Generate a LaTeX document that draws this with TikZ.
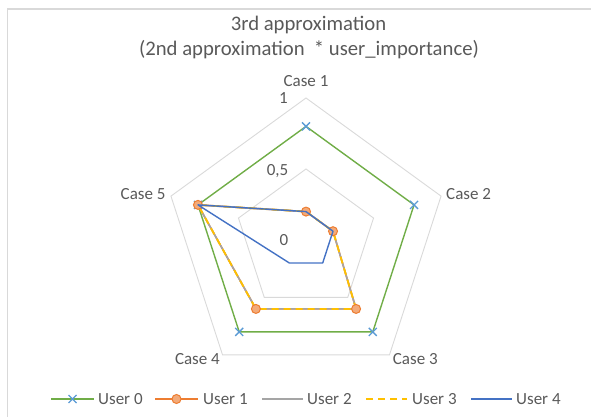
\documentclass[tikz,border=0pt]{standalone}
\usepackage{fontspec}
\setmainfont{Carlito}
\definecolor{txtgray}{HTML}{595959}
\definecolor{gridgray}{HTML}{D9D9D9}
\definecolor{cgreen}{HTML}{70AD47}
\definecolor{corange}{HTML}{ED7D31}
\definecolor{cgray}{HTML}{A5A5A5}
\definecolor{cyellow}{HTML}{FFC000}
\definecolor{cblue}{HTML}{4472C4}
\definecolor{cmark}{HTML}{5B9BD5}
\begin{document}
\begin{tikzpicture}[x=1pt,y=1pt,
  gridline/.style={draw=gridgray, line width=0.9pt, line join=miter},
  frameline/.style={draw=gridgray, line width=1.3pt},
  lbl/.style={text=txtgray, font=\fontsize{17}{20}\selectfont, inner sep=0pt},
  ttl/.style={text=txtgray, font=\fontsize{20.7}{24}\selectfont, inner sep=0pt},
  serzero/.style={draw=cgreen, line width=1.4pt, line join=round},
  serone/.style={draw=corange, line width=1.6pt, line join=round},
  sertwo/.style={draw=cgray, line width=1.6pt, line join=round},
  serthree/.style={draw=cyellow, line width=1.8pt, dash pattern=on 7pt off 5pt, line join=round},
  serfour/.style={draw=cblue, line width=1.4pt, line join=round},
  xmk/.style={draw=cmark, line width=1.3pt},
  omk/.style={circle, draw=corange, fill=corange!65!white, line width=1pt, minimum size=9pt, inner sep=0pt}
]
\useasboundingbox (0,0) rectangle (591,417);
% frame
\coordinate (fb) at (7.5,0);
\coordinate (ftl) at (7.5,408);
\coordinate (fr) at (591,408);
\draw[frameline] (fb) -- (ftl) -- (fr);

\coordinate (C) at (306,177);
% axis coordinates
\def\R{142}
\foreach \i/\a in {1/90,2/18,3/-54,4/-126,5/162}{
  \coordinate (ga\i) at ([shift={(\a:0.5*\R)}]C);
  \coordinate (gb\i) at ([shift={(\a:\R)}]C);
}
\draw[gridline] (ga1) -- (ga2) -- (ga3) -- (ga4) -- (ga5) -- cycle;
\draw[gridline] (gb1) -- (gb2) -- (gb3) -- (gb4) -- (gb5) -- cycle;

% data coordinates
\foreach \s/\va/\vb/\vc/\vd/\ve in {0/0.8/0.8/0.8/0.8/0.8, 1/0.2/0.2/0.6/0.6/0.8, 4/0.2/0.2/0.2/0.2/0.8}{
  \coordinate (u\s c1) at ([shift={(90:\va*\R)}]C);
  \coordinate (u\s c2) at ([shift={(18:\vb*\R)}]C);
  \coordinate (u\s c3) at ([shift={(-54:\vc*\R)}]C);
  \coordinate (u\s c4) at ([shift={(-126:\vd*\R)}]C);
  \coordinate (u\s c5) at ([shift={(162:\ve*\R)}]C);
}

% series
\draw[serzero] (u0c1) -- (u0c2) -- (u0c3) -- (u0c4) -- (u0c5) -- cycle;
\foreach \k in {1,...,5}{
  \draw[xmk] (u0c\k) +(-4,-4) -- +(4,4) +(-4,4) -- +(4,-4);
}
\draw[serone] (u1c1) -- (u1c2) -- (u1c3) -- (u1c4) -- (u1c5) -- cycle;
\draw[sertwo] (u1c1) -- (u1c2) -- (u1c3) -- (u1c4) -- (u1c5) -- cycle;
\draw[serthree] (u1c1) -- (u1c2) -- (u1c3) -- (u1c4) -- (u1c5) -- cycle;
\foreach \k in {1,...,5}{
  \node[omk] (om\k) at (u1c\k) {};
}
\draw[serfour] (u4c1) -- (u4c2) -- (u4c3) -- (u4c4) -- (u4c5) -- cycle;

% value labels
\node[lbl, anchor=base east] (v1) at (288,313) {1};
\node[lbl, anchor=base east] (v05) at (288.5,241.5) {0,5};
\node[lbl, anchor=base east] (v0) at (288.5,171.5) {0};

% category labels
\node[lbl, anchor=base] (cs1) at (306,330.5) {Case 1};
\node[lbl, anchor=base west] (cs2) at (446,217) {Case 2};
\node[lbl, anchor=base west] (cs3) at (392.7,52) {Case 3};
\node[lbl, anchor=base east] (cs4) at (220,52) {Case 4};
\node[lbl, anchor=base east] (cs5) at (165.7,217) {Case 5};

% title
\node[ttl, anchor=base] (t1) at (308.5,386) {3rd approximation};
\node[ttl, anchor=base] (t2) at (309,361) {(2nd approximation \ * user\_importance)};

% legend
\coordinate (l0a) at (51,18); \coordinate (l0b) at (94,18); \coordinate (l0m) at (72.5,18);
\coordinate (l1a) at (155,18); \coordinate (l1b) at (198,18); \coordinate (l1m) at (176.5,18);
\coordinate (l2a) at (262,18); \coordinate (l2b) at (303,18);
\coordinate (l3a) at (366,18); \coordinate (l3b) at (407,18);
\coordinate (l4a) at (471,18); \coordinate (l4b) at (512,18);
\draw[serzero] (l0a) -- (l0b);
\draw[xmk] (l0m) +(-4,-4) -- +(4,4) +(-4,4) -- +(4,-4);
\draw[serone] (l1a) -- (l1b);
\node[omk] (lom) at (l1m) {};
\draw[sertwo] (l2a) -- (l2b);
\draw[serthree] (l3a) -- (l3b);
\draw[serfour] (l4a) -- (l4b);
\node[lbl, anchor=base west] (lt0) at (98,12) {User 0};
\node[lbl, anchor=base west] (lt1) at (203,12) {User 1};
\node[lbl, anchor=base west] (lt2) at (307,12) {User 2};
\node[lbl, anchor=base west] (lt3) at (412,12) {User 3};
\node[lbl, anchor=base west] (lt4) at (516,12) {User 4};
\end{tikzpicture}
\end{document}
